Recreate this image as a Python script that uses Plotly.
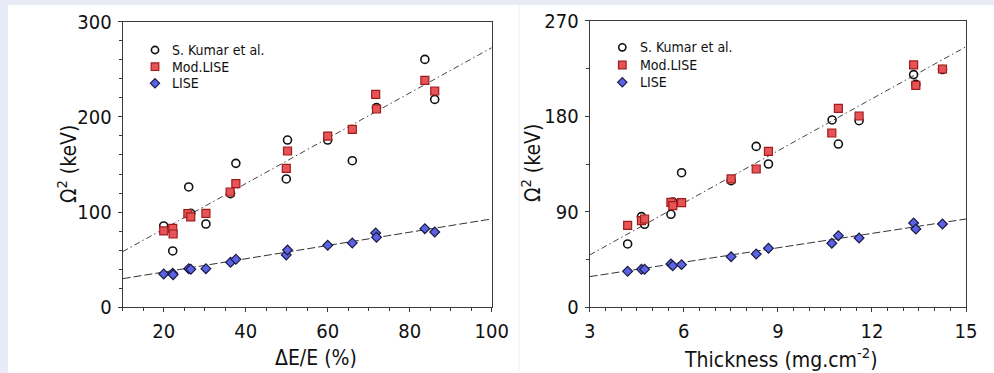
import plotly.graph_objects as go

W, H = 994, 373
FONT = "DejaVu Sans Condensed, DejaVu Sans, sans-serif"

# ---------------- data: left panel (ΔE/E) ----------------
left_kumar_x = [20.0, 22.2, 26.1, 26.6, 30.3, 36.3, 37.6, 49.9, 50.2, 60.0, 66.0, 71.9, 83.7, 86.1]
left_kumar_y = [85.4, 59.2, 126.4, 98.7, 87.5, 119.4, 151.2, 134.8, 175.7, 175.7, 154.0, 209.7, 260.4, 218.4]

left_mod_x = [20.0, 22.2, 22.3, 25.9, 26.6, 30.3, 36.2, 37.6, 49.9, 50.2, 60.0, 66.0, 71.7, 71.9, 83.7, 86.1]
left_mod_y = [80.2, 83.0, 77.0, 98.4, 94.9, 98.7, 121.1, 129.9, 146.0, 164.2, 179.9, 186.9, 223.7, 208.3, 238.4, 227.2]

left_lise_x = [20.0, 22.2, 22.3, 26.1, 26.6, 30.3, 36.3, 37.6, 49.9, 50.2, 60.0, 66.0, 71.7, 71.9, 83.7, 86.1]
left_lise_y = [35.0, 35.7, 34.3, 40.6, 39.9, 40.6, 47.3, 50.4, 55.0, 60.2, 65.1, 67.6, 78.0, 73.5, 82.6, 79.1]

left_fit_mod = {"slope": 2.38, "intercept": 34.7}
left_fit_lise = {"slope": 0.697, "intercept": 23.1}

# ---------------- data: right panel (Thickness) ----------------
right_kumar_x = [4.21, 4.65, 4.75, 5.59, 5.65, 5.93, 7.51, 8.31, 8.70, 10.73, 10.93, 11.59, 13.33, 13.40, 14.25]
right_kumar_y = [59.7, 85.4, 78.2, 87.6, 99.2, 126.8, 119.3, 151.6, 135.0, 176.5, 153.8, 175.8, 219.2, 210.0, 224.0]

right_mod_x = [4.21, 4.65, 4.75, 5.59, 5.65, 5.93, 7.51, 8.31, 8.70, 10.72, 10.93, 11.59, 13.33, 13.40, 14.25]
right_mod_y = [77.2, 81.6, 83.2, 98.9, 95.8, 98.6, 120.9, 130.3, 146.9, 164.2, 187.4, 180.2, 228.3, 209.1, 224.5]

right_lise_x = [4.21, 4.65, 4.75, 5.59, 5.65, 5.93, 7.51, 8.31, 8.70, 10.72, 10.93, 11.59, 13.33, 13.40, 14.25]
right_lise_y = [33.9, 35.8, 35.8, 40.8, 39.2, 40.2, 47.7, 50.2, 55.6, 60.3, 67.5, 65.3, 79.4, 73.8, 78.5]

right_fit_mod = {"slope": 16.35, "intercept": 0.25}
right_fit_lise = {"slope": 4.525, "intercept": 15.33}

# axis ranges / ticks
left_xrange = [10, 100]
left_yrange = [0, 300]
right_xrange = [3, 15]
right_yrange = [0, 270]

series_names = ["S. Kumar et al.", "Mod.LISE", "LISE"]
x_titles = ["ΔE/E (%)", "Thickness (mg.cm<sup>-2</sup>)"]
y_title = "Ω<sup>2</sup> (keV)"


def px_x(p):
    return p / W


def px_y(p):
    return (H - p) / H


AXIS_COLOR = "#3a3a3a"
KUMAR = dict(color="#111111", width=1.6)
MOD_FILL, MOD_LINE = "#e65457", "#a01c1c"
LISE_FILL, LISE_LINE = "#5a62e6", "#1a1a40"

kumar_marker = dict(symbol="circle-open", size=8, color=KUMAR["color"], line=dict(width=KUMAR["width"], color=KUMAR["color"]))
mod_marker = dict(symbol="square", size=8, color=MOD_FILL, line=dict(width=1.2, color=MOD_LINE))
lise_marker = dict(symbol="diamond", size=7.5, color=LISE_FILL, line=dict(width=1.2, color=LISE_LINE))

fig = go.Figure()


def add_panel(xa, ya, kx, ky, mx, my, lx, ly, fit_mod, fit_lise, xr):
    fx = list(xr)
    fig.add_trace(go.Scatter(x=fx, y=[fit_mod["slope"] * v + fit_mod["intercept"] for v in fx],
                             mode="lines", line=dict(color="#444444", width=1, dash="6px,3px,1.5px,3px"),
                             showlegend=False, xaxis=xa, yaxis=ya, hoverinfo="skip"))
    fig.add_trace(go.Scatter(x=fx, y=[fit_lise["slope"] * v + fit_lise["intercept"] for v in fx],
                             mode="lines", line=dict(color="#333333", width=1, dash="8px,3px"),
                             showlegend=False, xaxis=xa, yaxis=ya, hoverinfo="skip"))
    fig.add_trace(go.Scatter(x=kx, y=ky, mode="markers", marker=kumar_marker, name=series_names[0],
                             xaxis=xa, yaxis=ya, showlegend=False))
    fig.add_trace(go.Scatter(x=mx, y=my, mode="markers", marker=mod_marker, name=series_names[1],
                             xaxis=xa, yaxis=ya, showlegend=False))
    fig.add_trace(go.Scatter(x=lx, y=ly, mode="markers", marker=lise_marker, name=series_names[2],
                             xaxis=xa, yaxis=ya, showlegend=False))


add_panel("x", "y", left_kumar_x, left_kumar_y, left_mod_x, left_mod_y,
          left_lise_x, left_lise_y, left_fit_mod, left_fit_lise, left_xrange)
add_panel("x2", "y2", right_kumar_x, right_kumar_y, right_mod_x, right_mod_y,
          right_lise_x, right_lise_y, right_fit_mod, right_fit_lise, right_xrange)

tickfont = dict(family=FONT, size=20, color="#111111")

# panel geometry in pixels
L = dict(x0=122.7, x1=491.7, y0=21.7, y1=307.3)
R = dict(x0=589.7, x1=966.0, y0=20.7, y1=307.3)


def main_axis(dom, rng, dtick, minor_dtick, anchor):
    return dict(domain=dom, range=rng, dtick=dtick, tick0=0, ticks="outside", ticklen=4, tickwidth=1,
                tickcolor=AXIS_COLOR, showline=True, linecolor=AXIS_COLOR, linewidth=1, mirror=True,
                showgrid=False, zeroline=False, tickfont=tickfont, anchor=anchor, ticklabelstandoff=2,
                automargin=False,
                minor=dict(dtick=minor_dtick, ticks="outside", ticklen=3, tickcolor=AXIS_COLOR, showgrid=False))


def inner_axis(over, side, rng, minor_dtick, anchor):
    return dict(overlaying=over, side=side, range=rng, dtick=minor_dtick, tick0=0, ticks="inside",
                ticklen=3, tickwidth=1, tickcolor=AXIS_COLOR, showticklabels=False, showline=False,
                showgrid=False, zeroline=False, anchor=anchor, automargin=False)


ldx = [px_x(L["x0"]), px_x(L["x1"])]
ldy = [px_y(L["y1"]), px_y(L["y0"])]
rdx = [px_x(R["x0"]), px_x(R["x1"])]
rdy = [px_y(R["y1"]), px_y(R["y0"])]

fig.update_layout(
    width=W, height=H, autosize=False,
    margin=dict(l=0, r=0, t=0, b=0, pad=0, autoexpand=False),
    paper_bgcolor="white", plot_bgcolor="white",
    font=dict(family=FONT, color="#111111"),
    xaxis=main_axis(ldx, left_xrange, 20, 5, "y"),
    yaxis=main_axis(ldy, left_yrange, 100, 20, "x"),
    xaxis2=main_axis(rdx, right_xrange, 3, 0.5, "y2"),
    yaxis2=main_axis(rdy, right_yrange, 90, 45, "x2"),
    xaxis3=inner_axis("x", "top", left_xrange, 5, "y"),
    yaxis3=inner_axis("y", "right", left_yrange, 20, "x"),
    xaxis4=inner_axis("x2", "top", right_xrange, 0.5, "y2"),
    yaxis4=inner_axis("y2", "right", right_yrange, 45, "x2"),
    showlegend=False,
)

# background bands
BAND = "#e8ebf6"
fig.add_shape(type="rect", xref="paper", yref="paper", x0=0, x1=1, y0=px_y(5), y1=1,
              fillcolor=BAND, line=dict(width=0), layer="above")
fig.add_shape(type="rect", xref="paper", yref="paper", x0=0, x1=px_x(8), y0=0, y1=1,
              fillcolor=BAND, line=dict(width=0), layer="above")
fig.add_shape(type="line", xref="paper", yref="paper", x0=px_x(519), x1=px_x(519), y0=0, y1=px_y(5),
              line=dict(width=1, color="#f1f1f4"), layer="above")

# manual legends (marker swatch + label) for each panel
legend_font = dict(family=FONT, size=14, color="#111111")


def add_legend(mx, tx, rows):
    for i, cy in enumerate(rows):
        if i == 0:
            fig.add_shape(type="circle", xref="paper", yref="paper",
                          x0=px_x(mx - 3.6), x1=px_x(mx + 3.6), y0=px_y(cy + 3.6), y1=px_y(cy - 3.6),
                          line=dict(color=KUMAR["color"], width=KUMAR["width"]), fillcolor="rgba(0,0,0,0)")
        elif i == 1:
            fig.add_shape(type="rect", xref="paper", yref="paper",
                          x0=px_x(mx - 3.8), x1=px_x(mx + 3.8), y0=px_y(cy + 3.8), y1=px_y(cy - 3.8),
                          line=dict(color=MOD_LINE, width=1.2), fillcolor=MOD_FILL)
        else:
            d = 4.6
            path = (f"M {px_x(mx)} {px_y(cy - d)} L {px_x(mx + d)} {px_y(cy)} "
                    f"L {px_x(mx)} {px_y(cy + d)} L {px_x(mx - d)} {px_y(cy)} Z")
            fig.add_shape(type="path", xref="paper", yref="paper", path=path,
                          line=dict(color=LISE_LINE, width=1.2), fillcolor=LISE_FILL)
        fig.add_annotation(x=px_x(tx), y=px_y(cy), xref="paper", yref="paper", text=series_names[i],
                           showarrow=False, font=legend_font, xanchor="left", yanchor="middle",
                           borderpad=0)


add_legend(155, 171, [50, 66.7, 83.3])
add_legend(622.3, 639, [47.3, 65, 82.3])

# axis titles
title_font = dict(family=FONT, size=21, color="#111111")
fig.add_annotation(x=px_x(315.8), y=px_y(358), xref="paper", yref="paper", text=x_titles[0],
                   showarrow=False, font=title_font, xanchor="center", yanchor="middle")
fig.add_annotation(x=px_x(781), y=px_y(358), xref="paper", yref="paper", text=x_titles[1],
                   showarrow=False, font=title_font, xanchor="center", yanchor="middle")
fig.add_annotation(x=px_x(67), y=px_y(164), xref="paper", yref="paper", text=y_title, textangle=-90,
                   showarrow=False, font=title_font, xanchor="center", yanchor="middle")
fig.add_annotation(x=px_x(531), y=px_y(163), xref="paper", yref="paper", text=y_title, textangle=-90,
                   showarrow=False, font=title_font, xanchor="center", yanchor="middle")

fig.write_html("out.html", config={"displayModeBar": False},
               post_script="document.body.style.margin='0';document.body.style.overflow='hidden';")
